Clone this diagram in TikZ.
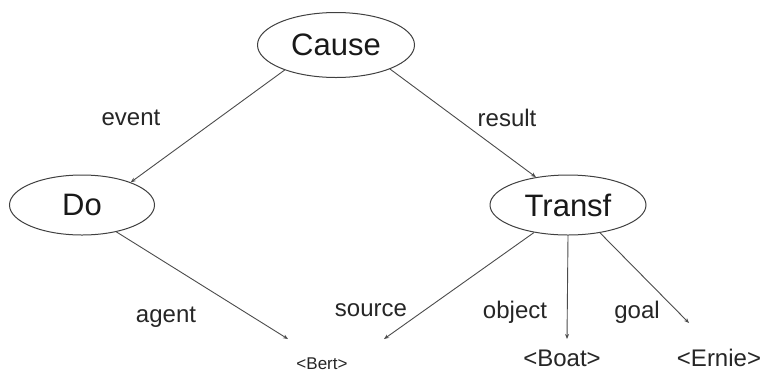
\documentclass[tikz,border=0pt]{standalone}
\usepackage{fontspec}
\setmainfont{Liberation Sans}
\usetikzlibrary{arrows.meta,shapes.geometric}
\begin{document}
\begin{tikzpicture}[x=1pt,y=-1pt,
  frame/.style={draw=black!75,line width=1pt,ellipse,inner sep=0pt,
    font=\fontsize{31}{31}\selectfont,text=black!90},
  rel/.style={font=\fontsize{24}{24}\selectfont,anchor=base,text=black!85},
  leaf/.style={font=\fontsize{24}{24}\selectfont,anchor=base,text=black!85},
  link/.style={draw=black!70,line width=0.9pt,-{Stealth[length=5pt,width=4pt]}}]
\useasboundingbox (0,0) rectangle (767,373);
\fill[white] (0,0) rectangle (767,373);
% frames
\node[frame,minimum width=157pt,minimum height=65pt] (cause) at (336,45) {Cause};
\node[frame,minimum width=145pt,minimum height=60pt] (do) at (82,205) {Do};
\node[frame,minimum width=156pt,minimum height=60pt] (transf) at (568,205) {Transf};
% fillers
\node[leaf,font=\fontsize{17}{17}\selectfont] (bert) at (322,369) {<Bert>};
\node[leaf] (boat) at (562,366) {<Boat>};
\node[leaf] (ernie) at (719,366) {<Ernie>};
\coordinate (bertL) at (288,339);
\coordinate (bertR) at (384,339);
\coordinate (boatT) at (567,339);
\coordinate (ernieT) at (689,323);
% role links
\draw[link] (cause.206) -- (do.25);
\draw[link] (cause.336) -- (transf.139);
\draw[link] (do.322) -- (bertL);
\draw[link] (transf.219) -- (bertR);
\draw[link] (transf.270) -- (boatT);
\draw[link] (transf.319) -- (ernieT);
% role labels
\node[rel] (ev) at (131,125) {event};
\node[rel] (res) at (507,126) {result};
\node[rel] (ag) at (166,322) {agent};
\node[rel] (src) at (371,316) {source};
\node[rel] (obj) at (515,318) {object};
\node[rel] (gl) at (637,318) {goal};
\end{tikzpicture}
\end{document}
